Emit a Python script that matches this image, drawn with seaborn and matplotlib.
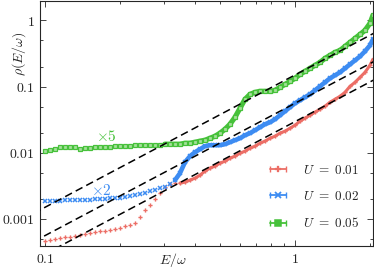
import pandas as pd
import seaborn as sns
from matplotlib import pyplot as plt
from matplotlib.lines import Line2D
from matplotlib.legend_handler import HandlerLine2D
from matplotlib.ticker import LogLocator, FuncFormatter, NullFormatter

energy = [0.1000, 0.1047, 0.1096, 0.1148, 0.1202, 0.1259, 0.1318, 0.1380, 0.1445, 0.1514,
          0.1585, 0.1660, 0.1738, 0.1820, 0.1905, 0.1995, 0.2089, 0.2188, 0.2291, 0.2399,
          0.2512, 0.2630, 0.2754, 0.2884, 0.3020, 0.3162, 0.3311, 0.3467, 0.3631, 0.3802,
          0.3981, 0.4169, 0.4365, 0.4571, 0.4786, 0.5012, 0.5248, 0.5495, 0.5754, 0.6026,
          0.6310, 0.6607, 0.6918, 0.7244, 0.7586, 0.7943, 0.8318, 0.8710, 0.9120, 0.9550,
          1.000, 1.047, 1.096, 1.148, 1.202, 1.259, 1.318, 1.380, 1.445, 1.514,
          1.585, 1.660, 1.738, 1.820, 1.905, 1.995, 2.05]

# U = 0.01
rho_u001 = [0.000464, 0.000481, 0.000498, 0.000515, 0.000533, 0.000533, 0.000552, 0.000571, 0.000591, 0.000613,
            0.000634, 0.000658, 0.000658, 0.000681, 0.000705, 0.000730, 0.000782, 0.000810, 0.000868, 0.00107,
            0.00136, 0.00162, 0.00200, 0.00246, 0.00303, 0.00336, 0.00348, 0.00348, 0.00360, 0.00386,
            0.00414, 0.00459, 0.00528, 0.00587, 0.00628, 0.00697, 0.00747, 0.00829, 0.00889, 0.00986,
            0.01057, 0.01173, 0.01258, 0.01396, 0.0150, 0.0166, 0.0178, 0.0198, 0.0212, 0.0235,
            0.0261, 0.0300, 0.0333, 0.0369, 0.0410, 0.0455, 0.0504, 0.0580, 0.0643, 0.0714,
            0.0820, 0.101, 0.116, 0.138, 0.164, 0.210, 0.258]

# U = 0.02 (shown x2)
rho_u002 = [0.00186, 0.00186, 0.00186, 0.00186, 0.00193, 0.00193, 0.00193, 0.00193, 0.00193, 0.00193,
            0.00200, 0.00200, 0.00200, 0.00207, 0.00207, 0.00207, 0.00214, 0.00221, 0.00229, 0.00237,
            0.00246, 0.00264, 0.00273, 0.00292, 0.00303, 0.00336, 0.00386, 0.00492, 0.00721, 0.00889,
            0.0102, 0.01133, 0.01258, 0.01303, 0.01303, 0.01303, 0.01349, 0.01445, 0.0155, 0.0166,
            0.0184, 0.0198, 0.0219, 0.0243, 0.0270, 0.0289, 0.0321, 0.0369, 0.0424, 0.0488,
            0.0560, 0.0621, 0.0690, 0.0765, 0.0880, 0.101, 0.116, 0.1334, 0.148, 0.1643,
            0.1888, 0.217, 0.249, 0.286, 0.341, 0.420, 0.517]

# U = 0.05 (shown x5)
rho_u005 = [0.01057, 0.01094, 0.01133, 0.01215, 0.01215, 0.01215, 0.01215, 0.01133, 0.01173, 0.01173,
            0.01215, 0.01215, 0.01215, 0.01215, 0.01258, 0.01258, 0.01258, 0.01258, 0.01303, 0.01303,
            0.01303, 0.01303, 0.01303, 0.01303, 0.01349, 0.01349, 0.01349, 0.01349, 0.01396, 0.01396,
            0.01445, 0.0150, 0.0155, 0.0166, 0.0178, 0.0198, 0.0227, 0.0270, 0.0344, 0.0471,
            0.0643, 0.0765, 0.0820, 0.0850, 0.0850, 0.0850, 0.0880, 0.0976, 0.108, 0.120,
            0.1334, 0.1533, 0.170, 0.1888, 0.2096, 0.2325, 0.267, 0.2965, 0.329, 0.353,
            0.405, 0.466, 0.535, 0.615, 0.707, 0.901, 1.190]

# dashed E^2 guide lines (end points)
ref_energy = [0.09, 2.2]
ref_low = [2.39e-4, 0.143]
ref_mid = [4.54e-4, 0.271]
ref_high = [1.215e-3, 0.726]

labels = ['$U\\ =\\ 0.01$', '$U\\ =\\ 0.02$', '$U\\ =\\ 0.05$']
colors = ['#ec6e66', '#3d8cf2', '#46c13a']

sns.set_theme(style='ticks')
plt.rcParams.update({
    'font.family': ['DejaVu Serif'],
    'mathtext.fontset': 'cm',
    'font.size': 10,
    'axes.linewidth': 0.8,
    'xtick.direction': 'in',
    'ytick.direction': 'in',
})

fig = plt.figure(figsize=(3.74, 2.68), dpi=100)
ax = fig.add_axes([0.107, 0.082, 0.890, 0.916])
ax.set_xscale('log')
ax.set_yscale('log')

# marker style per series, band = width of the merged markers at high E
styles = [
    dict(marker='P', ms=3.0, mew=0, band=2.2, start=0.34),
    dict(marker='x', ms=3.2, mew=1.1, band=3.3, start=0.33),
    dict(marker='s', ms=3.0, mew=0.9, band=3.7, start=0.30),
]

handles = []
hmap = {}
for rho, col, st in zip([rho_u001, rho_u002, rho_u005], colors, styles):
    df = pd.DataFrame({'E': energy, 'rho': rho})
    dense = df[df.E >= st['start']]
    sns.lineplot(data=dense, x='E', y='rho', color=col, lw=st['band'],
                 estimator=None, legend=False, ax=ax)
    mfc = '#a6e09c' if st['marker'] == 's' else col
    sns.lineplot(data=df, x='E', y='rho', color=col, marker=st['marker'], ms=st['ms'],
                 mew=st['mew'], mfc=mfc, mec=col, linestyle='none',
                 estimator=None, legend=False, ax=ax)
    caps = Line2D([], [], color=col, lw=1.3, marker='|', ms=5, mew=1.0)
    mid = Line2D([], [], color=col, lw=0, marker=st['marker'], ms=st['ms'] + 0.8,
                 mew=st['mew'] + 0.2, mec=col, mfc=col)
    hmap[caps] = HandlerLine2D(numpoints=2)
    hmap[mid] = HandlerLine2D(numpoints=1)
    handles.append((caps, mid))

for ref in [ref_low, ref_mid, ref_high]:
    sns.lineplot(x=ref_energy, y=ref, color='black', lw=1.1, ax=ax,
                 linestyle=(0, (5, 2.8)), zorder=5)

ax.text(0.1753, 0.0178, r'$\times5$', color=colors[2], ha='center', va='center', fontsize=11)
ax.text(0.1673, 0.00273, r'$\times2$', color=colors[1], ha='center', va='center', fontsize=11)

ax.set_xlim(0.0955, 2.05)
ax.set_ylim(3.9e-4, 2.0)

fmt = FuncFormatter(lambda v, p: f'${v:g}$')
ax.xaxis.set_major_locator(LogLocator(base=10))
ax.xaxis.set_minor_locator(LogLocator(base=10, subs=[2, 3, 4, 5, 6, 7, 8, 9]))
ax.yaxis.set_major_locator(LogLocator(base=10))
ax.yaxis.set_minor_locator(LogLocator(base=10, subs=[2, 5]))
ax.xaxis.set_major_formatter(fmt)
ax.yaxis.set_major_formatter(fmt)
ax.xaxis.set_minor_formatter(NullFormatter())
ax.yaxis.set_minor_formatter(NullFormatter())
ax.tick_params(which='both', top=True, right=True, width=0.6, labelsize=10, pad=4)
ax.tick_params(which='major', length=4)
ax.tick_params(which='minor', length=2.2)

ax.set_xlabel(r'$E/\omega$', fontsize=10)
ax.set_ylabel(r'$\rho(E/\omega)$', fontsize=10)
ax.xaxis.set_label_coords(0.40, -0.022)
ax.yaxis.set_label_coords(-0.036, 0.785)

ax.legend(handles, labels, handler_map=hmap, loc='upper left', bbox_to_anchor=(0.68, 0.335),
          frameon=False, fontsize=9.5, handlelength=1.8, handletextpad=1.0,
          labelspacing=1.0, borderpad=0, borderaxespad=0)

fig.savefig('out.png', dpi=100)
